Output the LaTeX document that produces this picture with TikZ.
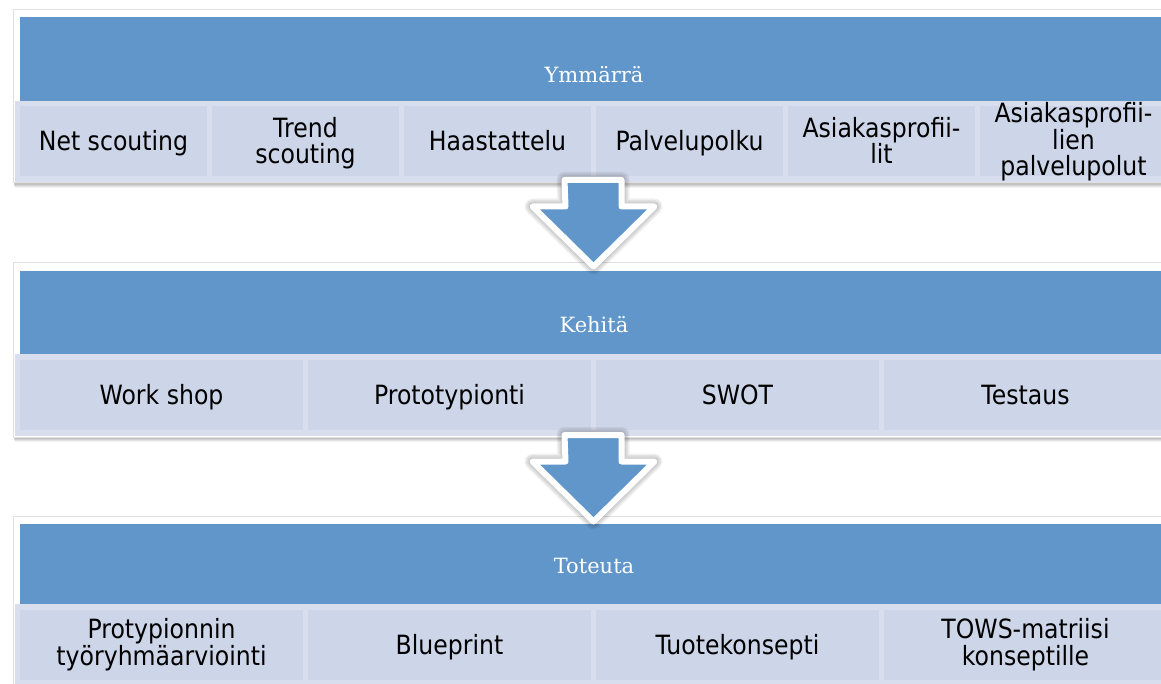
\documentclass[tikz,border=0pt]{standalone}
\usepackage{fontspec}
\setsansfont{DejaVu Sans}[FakeStretch=0.89]
\newfontfamily\headfont{DejaVu Serif}
\usetikzlibrary{calc}
\definecolor{hblue}{RGB}{96,150,201}
\definecolor{cellc}{RGB}{205,213,232}
\definecolor{rowc}{RGB}{216,222,238}
\definecolor{framec}{RGB}{224,224,224}
\newcommand\cellbox[6]{%
  \node[cellfill, minimum width=#4pt] (#1) at (#2,#3) {};
  \node[celltext, anchor=base] (#1t) at ($(#1)+(0,#5)$) {#6};}
% soft-shadowed white frame: corners given
\newcommand\bandframe[4]{%
  \foreach \d/\o in {5/0.05,4/0.06,3/0.07,2/0.08}{
    \fill[black, opacity=\o] (#1+\d*0.3,#2+\d) rectangle (#3,#4+\d);}
  \draw[frame] (#1,#2) rectangle (#3,#4);}
\newcommand\arrowshape[1]{($(#1)+(-28.5,0)$) -- ++(57,0) -- ++(0,26.5) -- ++(33,0)
    -- ++(-61,60) -- ++(-61,-60) -- ++(33,0) -- cycle}
\begin{document}
\begin{tikzpicture}[x=1pt,y=-1pt,
  frame/.style={fill=white, draw=framec, line width=1pt},
  rowbg/.style={fill=rowc},
  cellfill/.style={fill=cellc, minimum height=70pt, inner sep=0pt, outer sep=0pt},
  celltext/.style={font=\sffamily\fontsize{26.5}{26.5}\selectfont, align=center, inner sep=0pt, text=black},
  headtext/.style={font=\headfont\fontsize{21}{24}\selectfont, text=white, inner sep=0pt},
  bigarrow/.style={fill=hblue, draw=white, line width=6pt, line join=round},
  arrowshadow/.style={draw=black, line join=round, draw opacity=0.06}
]
\useasboundingbox (0,0) rectangle (1161,684);
\clip (0,0) rectangle (1161,684);
\fill[white] (0,0) rectangle (1161,684);

% ---- band 1
\bandframe{13}{10}{1180}{183}
\fill[hblue] (20,17) rectangle (1180,101);
\fill[rowbg] (15,101) rectangle (1167,182);
\node[headtext, anchor=base] (h1) at (594,83) {Ymmärrä};
\cellbox{c11}{113.5}{141}{187}{9.5}{Net scouting}
\cellbox{c12}{305.5}{141}{187}{23}{Trend\\scouting}
\cellbox{c13}{497.5}{141}{187}{9.5}{Haastattelu}
\cellbox{c14}{689.5}{141}{187}{9.5}{Palvelupolku}
\cellbox{c15}{881.5}{141}{187}{23}{Asiakasprofii-\\lit}
\cellbox{c16}{1073.5}{141}{187}{35}{Asiakasprofii-\\lien\\palvelupolut}

% ---- band 2
\bandframe{13}{263}{1180}{437}
\fill[hblue] (20,271) rectangle (1180,354);
\fill[rowbg] (15,354) rectangle (1167,436);
\node[headtext, anchor=base] (h2) at (594,333) {Kehitä};
\cellbox{c21}{161.5}{394.5}{283}{9.5}{Work shop}
\cellbox{c22}{449.5}{394.5}{283}{9.5}{Prototypionti}
\cellbox{c23}{737.5}{394.5}{283}{9.5}{SWOT}
\cellbox{c24}{1025.5}{394.5}{283}{9.5}{Testaus}

% ---- band 3
\bandframe{13}{516}{1180}{700}
\fill[hblue] (20,524) rectangle (1180,604);
\fill[rowbg] (15,604) rectangle (1167,700);
\node[headtext, anchor=base] (h3) at (594,573) {Toteuta};
\cellbox{c31}{161.5}{644.5}{283}{20.5}{Protypionnin\\työryhmäarviointi}
\cellbox{c32}{449.5}{644.5}{283}{9.5}{Blueprint}
\cellbox{c33}{737.5}{644.5}{283}{9.5}{Tuotekonsepti}
\cellbox{c34}{1025.5}{644.5}{283}{20.5}{TOWS-matriisi\\konseptille}

% ---- arrows
\coordinate (a1) at (593,180);
\coordinate (a2) at (593,435);
\foreach \a in {a1,a2}{
  \begin{scope}[shift={(3,4)}]
    \foreach \w in {16,13,10,7}{
      \draw[arrowshadow, line width=\w pt] \arrowshape{\a};}
  \end{scope}
  \draw[bigarrow] \arrowshape{\a};
}
\end{tikzpicture}
\end{document}
